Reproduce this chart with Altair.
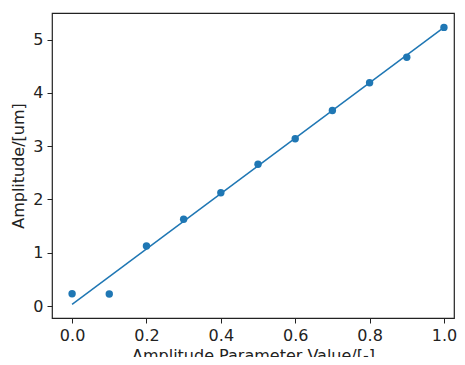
import altair as alt
import pandas as pd

x_vals = [0.0, 0.1, 0.2, 0.3, 0.4, 0.5, 0.6, 0.7, 0.8, 0.9, 1.0]
y_vals = [0.23, 0.225, 1.125, 1.63, 2.125, 2.66, 3.14, 3.67, 4.19, 4.67, 5.23]
fit_x = [0.0, 1.0]
fit_y = [0.03, 5.23]

pts = pd.DataFrame({"x": x_vals, "y": y_vals})
fit = pd.DataFrame({"x": fit_x, "y": fit_y})

FONT = "DejaVu Sans"
BLUE = "#1f77b4"

xscale = alt.Scale(domain=[-0.054, 1.027], nice=False, zero=False)
yscale = alt.Scale(domain=[-0.225, 5.5], nice=False, zero=False)

xaxis = alt.Axis(
    title="Amplitude Parameter Value/[-]",
    values=[0.0, 0.2, 0.4, 0.6, 0.8, 1.0],
    format=".1f",
    grid=False,
    tickSize=5,
    labelPadding=4,
    titlePadding=4,
)
yaxis = alt.Axis(
    title="Amplitude/[um]",
    values=[0, 1, 2, 3, 4, 5],
    format="d",
    grid=False,
    tickSize=5,
    labelPadding=4,
    titlePadding=6,
)

line = alt.Chart(fit).mark_line(color=BLUE, strokeWidth=1.5).encode(
    x=alt.X("x:Q", scale=xscale, axis=xaxis),
    y=alt.Y("y:Q", scale=yscale, axis=yaxis),
)
points = alt.Chart(pts).mark_circle(color=BLUE, size=55, opacity=1).encode(
    x=alt.X("x:Q", scale=xscale),
    y=alt.Y("y:Q", scale=yscale),
)

chart = (
    alt.layer(line, points)
    .properties(
        width=402,
        height=305,
        autosize=alt.AutoSizeParams(type="none"),
        padding={"left": 44, "top": 5, "right": 3, "bottom": 39},
    )
    .configure_view(stroke="#222222", strokeWidth=1.2)
    .configure_axis(
        domain=False,
        tickColor="#222222",
        tickWidth=1,
        labelFont=FONT,
        labelFontSize=16,
        labelColor="#222222",
        titleFont=FONT,
        titleFontSize=16,
        titleFontWeight="normal",
        titleColor="#222222",
    )
)

chart.save("out.html", embed_options={"renderer": "svg", "actions": False})
